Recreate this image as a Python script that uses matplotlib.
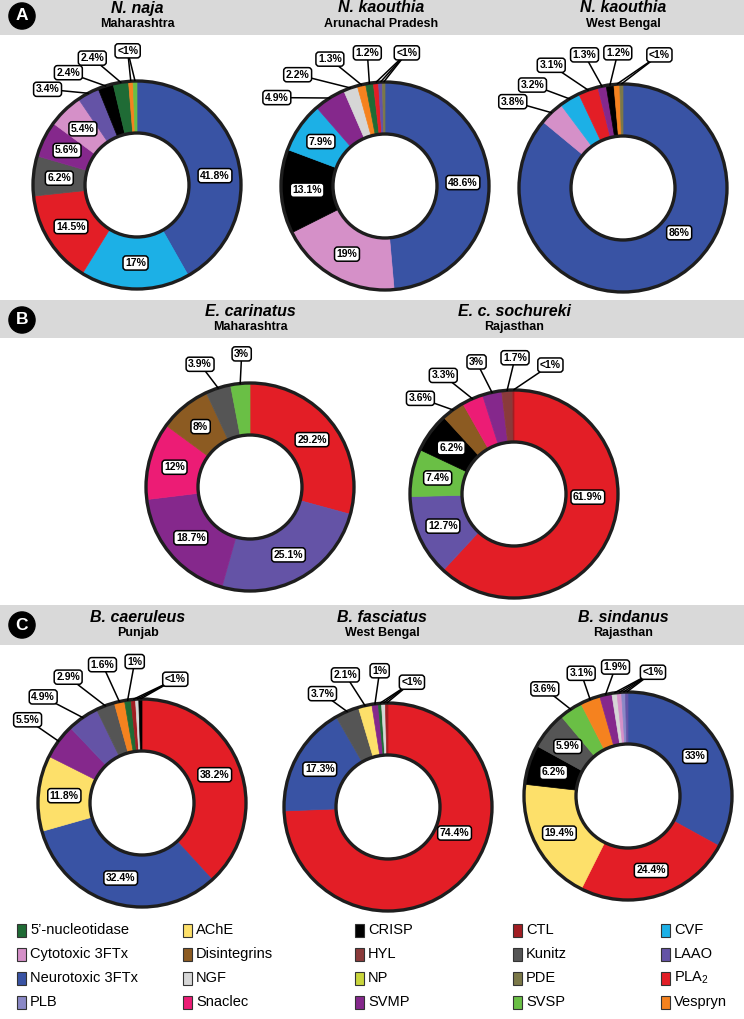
import numpy as np
import matplotlib
matplotlib.use('Agg')
import matplotlib.pyplot as plt
from matplotlib.patches import Rectangle, Circle

plt.rcParams['font.family'] = ['Liberation Sans', 'DejaVu Sans']
plt.rcParams['mathtext.default'] = 'regular'

# toxin family colours (legend order)
legend_cats = ["5’-nucleotidase", "AChE", "CRISP", "CTL", "CVF",
               "Cytotoxic 3FTx", "Disintegrins", "HYL", "Kunitz", "LAAO",
               "Neurotoxic 3FTx", "NGF", "NP", "PDE", "PLA2",
               "PLB", "Snaclec", "SVMP", "SVSP", "Vespryn"]
legend_cols = ['#1f6b35', '#fde06a', '#000000', '#a11d22', '#1cb0e6',
               '#d590c8', '#8c5b22', '#8a3a3a', '#555555', '#6453a6',
               '#3953a4', '#d6d6d6', '#c9d53c', '#7b7848', '#e31e26',
               '#8a88c6', '#ec1c75', '#85288c', '#6abf45', '#f5821f']
palette = dict(zip(legend_cats, legend_cols))

# ---- venom composition (%), clockwise from 12 o'clock ----
naja_cats = ['Neurotoxic 3FTx', 'CVF', 'PLA2', 'Kunitz', 'SVMP', 'Cytotoxic 3FTx',
             'LAAO', 'CRISP', "5’-nucleotidase", 'Vespryn', 'SVSP']
naja_vals = [41.8, 17, 14.5, 6.2, 5.6, 5.4, 3.4, 2.4, 2.4, 0.7, 0.6]

kaou_ap_cats = ['Neurotoxic 3FTx', 'Cytotoxic 3FTx', 'CRISP', 'CVF', 'SVMP', 'NGF',
                'Vespryn', "5’-nucleotidase", 'PLA2', 'LAAO', 'PDE']
kaou_ap_vals = [48.6, 19, 13.1, 7.9, 4.9, 2.2, 1.3, 1.2, 0.8, 0.6, 0.4]

kaou_wb_cats = ['Neurotoxic 3FTx', 'Cytotoxic 3FTx', 'CVF', 'PLA2', 'SVMP', 'CRISP',
                'Vespryn', 'PDE']
kaou_wb_vals = [86, 3.8, 3.2, 3.1, 1.3, 1.2, 0.9, 0.5]

cari_cats = ['PLA2', 'LAAO', 'SVMP', 'Snaclec', 'Disintegrins', 'Kunitz', 'SVSP']
cari_vals = [29.2, 25.1, 18.7, 12, 8, 3.9, 3]

soch_cats = ['PLA2', 'LAAO', 'SVSP', 'CRISP', 'Disintegrins', 'Snaclec', 'SVMP',
             'HYL', 'CTL']
soch_vals = [61.9, 12.7, 7.4, 6.2, 3.6, 3.3, 3, 1.7, 0.2]

caer_cats = ['PLA2', 'Neurotoxic 3FTx', 'AChE', 'SVMP', 'LAAO', 'Kunitz', 'Vespryn',
             "5’-nucleotidase", 'CTL', 'NGF', 'CRISP']
caer_vals = [38.2, 32.4, 11.8, 5.5, 4.9, 2.9, 1.6, 1, 0.7, 0.5, 0.5]

fasc_cats = ['PLA2', 'Neurotoxic 3FTx', 'Kunitz', 'AChE', 'SVMP', "5’-nucleotidase",
             'NGF', 'CTL']
fasc_vals = [74.4, 17.3, 3.7, 2.1, 1, 0.5, 0.6, 0.4]

sind_cats = ['Neurotoxic 3FTx', 'PLA2', 'AChE', 'CRISP', 'Kunitz', 'SVSP', 'Vespryn',
             'SVMP', 'NGF', 'Cytotoxic 3FTx', 'PLB', 'LAAO']
sind_vals = [33, 24.4, 19.4, 6.2, 5.9, 3.6, 3.1, 1.9, 0.8, 0.7, 0.6, 0.4]

W, H = 744, 1019
fig = plt.figure(figsize=(W / 100, H / 100), dpi=100)


def fx(px):
    return px / W


def fy(py):
    return 1 - py / H


# grey header bands + panel letters
for top, bot in [(0, 35), (300, 338), (605, 645)]:
    fig.add_artist(Rectangle((0, fy(bot)), 1, (bot - top) / H, transform=fig.transFigure,
                             fc='#d9d9d9', ec='none', zorder=0))
for letter, py in [('A', 16), ('B', 320), ('C', 625)]:
    fig.text(fx(22), fy(py), letter, color='white', fontsize=12.5, fontweight='bold',
             ha='center', va='center',
             bbox=dict(boxstyle='circle,pad=0.32', fc='black', ec='black'))


def title(px, py, name, place):
    fig.text(fx(px), fy(py), name, ha='center', va='center', fontsize=11.5,
             fontweight='bold', style='italic')
    fig.text(fx(px), fy(py + 16), place, ha='center', va='center', fontsize=9,
             fontweight='bold')


box = dict(boxstyle='round,pad=0.2,rounding_size=0.3', fc='white', ec='black', lw=1.1)


def donut(cx, cy, cats, vals, out_pos, small_pos=None, in_pos=None, r=104, L=1.45):
    ax = fig.add_axes([(cx - L * r) / W, 1 - (cy + L * r) / H, 2 * L * r / W, 2 * L * r / H])
    wedges, _ = ax.pie(vals, colors=[palette[c] for c in cats], startangle=90,
                       counterclock=False, radius=1,
                       wedgeprops=dict(width=0.5, linewidth=0.5))
    ax.set_xlim(-L, L)
    ax.set_ylim(-L, L)
    ax.set_aspect('equal')
    ax.axis('off')
    for w in wedges:
        w.set_edgecolor(w.get_facecolor())
    for rad in (1, 0.5):
        ax.add_patch(Circle((0, 0), rad, fill=False, lw=2.4, ec='#1e1e1e', zorder=3))
    in_pos = in_pos or {}
    for i, (w, v) in enumerate(zip(wedges, vals)):
        a = np.deg2rad((w.theta1 + w.theta2) / 2)
        edge = (np.cos(a), np.sin(a))
        if v < 1:
            ax.plot([edge[0], small_pos[0]], [edge[1], small_pos[1]], color='black',
                    lw=1.1, zorder=4, solid_capstyle='butt')
        elif i in out_pos:
            p = out_pos[i]
            ax.plot([edge[0], p[0]], [edge[1], p[1]], color='black', lw=1.1, zorder=4)
            ax.text(p[0], p[1], f'{v:g}%', ha='center', va='center', fontsize=7.5,
                    fontweight='bold', bbox=box, zorder=6)
        else:
            p = in_pos.get(i, (0.75 * edge[0], 0.75 * edge[1]))
            ax.text(p[0], p[1], f'{v:g}%', ha='center', va='center', fontsize=7.5,
                    fontweight='bold', bbox=box, zorder=6)
    if small_pos is not None:
        ax.text(small_pos[0], small_pos[1], '<1%', ha='center', va='center', fontsize=7.5,
                fontweight='bold', bbox=box, zorder=6)


# panel A
title(137, 8, 'N. naja', 'Maharashtra')
donut(137, 185, naja_cats, naja_vals,
      {6: (-0.86, 0.92), 7: (-0.66, 1.08), 8: (-0.43, 1.22)}, (-0.09, 1.29),
      {0: (0.75, 0.09)})
title(381, 8, 'N. kaouthia', 'Arunachal Pradesh')
donut(385, 186, kaou_ap_cats, kaou_ap_vals,
      {4: (-1.04, 0.85), 5: (-0.84, 1.07), 6: (-0.53, 1.22), 7: (-0.17, 1.28)},
      (0.21, 1.28))
title(623, 8, 'N. kaouthia', 'West Bengal')
donut(623, 188, kaou_wb_cats, kaou_wb_vals,
      {1: (-1.06, 0.83), 2: (-0.87, 0.99), 3: (-0.69, 1.18), 4: (-0.37, 1.28),
       5: (-0.05, 1.30)}, (0.35, 1.28), {0: (0.54, -0.43)})

# panel B
title(250, 311, 'E. carinatus', 'Maharashtra')
donut(250, 487, cari_cats, cari_vals, {5: (-0.48, 1.18), 6: (-0.08, 1.28)})
title(514, 311, 'E. c. sochureki', 'Rajasthan')
donut(514, 494, soch_cats, soch_vals,
      {4: (-0.90, 0.92), 5: (-0.68, 1.14), 6: (-0.36, 1.27), 7: (0.01, 1.31)},
      (0.35, 1.24), {0: (0.71, -0.03)})

# panel C
title(138, 617, 'B. caeruleus', 'Punjab')
donut(142, 803, caer_cats, caer_vals,
      {3: (-1.10, 0.80), 4: (-0.95, 1.02), 5: (-0.71, 1.21), 6: (-0.38, 1.33),
       7: (-0.07, 1.36)}, (0.32, 1.19))
title(382, 617, 'B. fasciatus', 'West Bengal')
donut(388, 807, fasc_cats, fasc_vals,
      {2: (-0.63, 1.09), 3: (-0.41, 1.27), 4: (-0.08, 1.31)}, (0.23, 1.20),
      {0: (0.64, -0.25)})
title(623, 617, 'B. sindanus', 'Rajasthan')
donut(628, 796, sind_cats, sind_vals,
      {5: (-0.80, 1.03), 6: (-0.45, 1.18), 7: (-0.12, 1.24)}, (0.24, 1.19))

# legend
col_x = [17, 183, 355, 513, 661]
row_y = [930, 954, 978, 1002]
for j, cat in enumerate(legend_cats):
    x0, y0 = col_x[j % 5], row_y[j // 5]
    fig.add_artist(Rectangle((fx(x0), fy(y0 + 6.5)), 9 / W, 13 / H, transform=fig.transFigure,
                             fc=palette[cat], ec='#333333', lw=0.8))
    name = r'PLA$_2$' if cat == 'PLA2' else cat
    fig.text(fx(x0 + 13), fy(y0), name, ha='left', va='center', fontsize=10.5)

fig.savefig('out.png', dpi=100)
